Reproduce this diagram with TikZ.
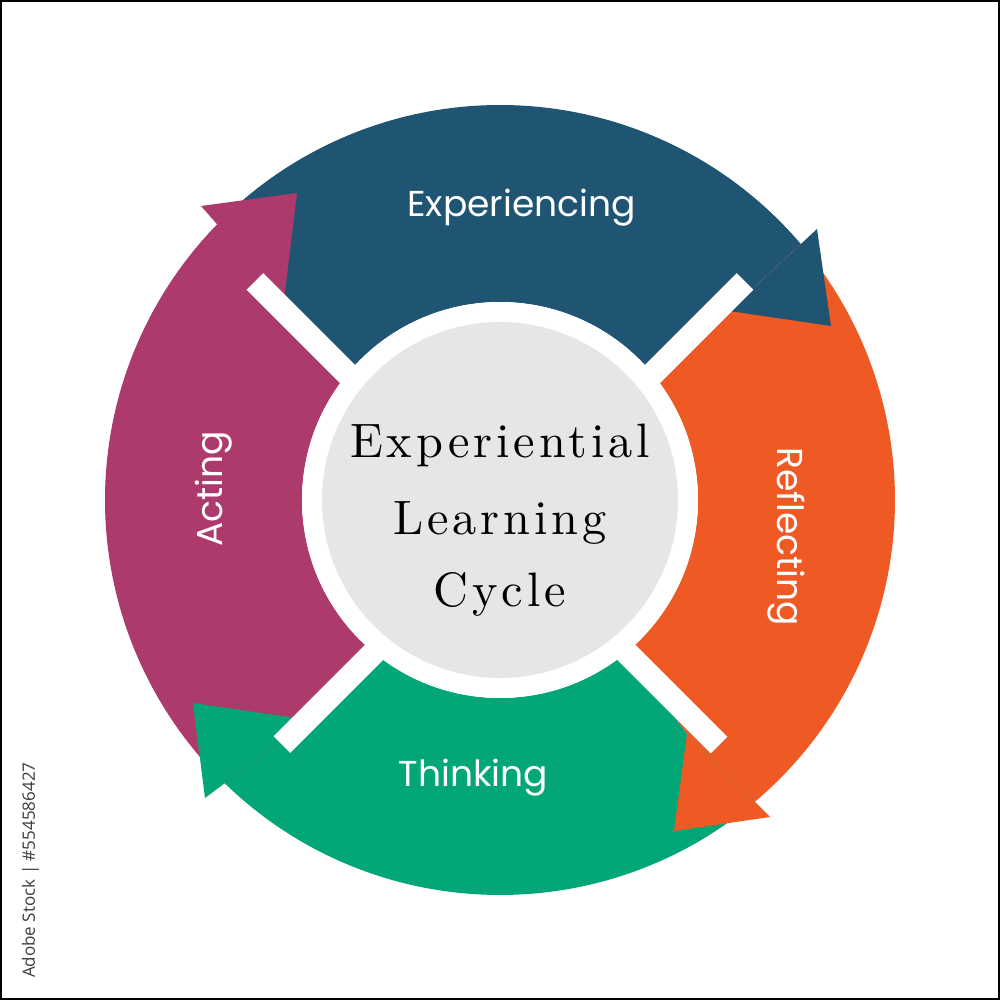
\documentclass[tikz,border=0pt]{standalone}
\usepackage{fontspec}
\newfontfamily\labelfont{Poppins}
\newfontfamily\idfont{Open Sans}
\newfontfamily\centerfont{lmroman10-regular.otf}[LetterSpace=8]
\definecolor{cblue}{RGB}{31,85,115}
\definecolor{corange}{RGB}{239,90,36}
\definecolor{cgreen}{RGB}{3,167,119}
\definecolor{cmag}{RGB}{173,58,108}
\definecolor{cgrey}{RGB}{230,230,230}
\definecolor{cid}{RGB}{60,60,60}
\tikzset{
  lbl/.style={text=white, inner sep=0pt, font=\labelfont\fontsize{20.5}{24}\selectfont},
  ctext/.style={text=black, inner sep=0pt, font=\centerfont\fontsize{27.5}{32}\selectfont},
  barline/.style={white, line width=0.47cm, line cap=butt},
}
\begin{document}
\begin{tikzpicture}[x=0.02cm,y=0.02cm]
\useasboundingbox (-500,-500) rectangle (500,500);
\fill[white] (-500,-500) rectangle (500,500);
% shafts
\fill[cblue] (135.7:395) arc[start angle=135.7, end angle=40.4, radius=395] -- (229,189) -- (39.6:198) arc[start angle=39.6, end angle=140.4, radius=198] -- (-216,200) -- cycle;
\fill[corange] (40.4:395) arc[start angle=40.4, end angle=-49.8, radius=395] -- (187,-234) -- (-50.3:198) arc[start angle=-50.3, end angle=39.6, radius=198] -- (229,189) -- cycle;
\fill[cgreen] (-49.8:395) arc[start angle=-49.8, end angle=-134.2, radius=395] -- (-191,-220) -- (-129.6:198) arc[start angle=-129.6, end angle=-50.3, radius=198] -- (187,-234) -- cycle;
\fill[cmag] (-134.2:395) arc[start angle=-134.2, end angle=-224.3, radius=395] -- (-216,200) -- (-219.6:198) arc[start angle=-219.6, end angle=-129.6, radius=198] -- (-191,-220) -- cycle;
% heads
\fill[cblue] (317,271) -- (331,174) -- (229,189) -- cycle;
\fill[corange] (270,-317) -- (174,-331) -- (187,-234) -- cycle;
\fill[cgreen] (-295,-298) -- (-307,-203) -- (-191,-220) -- cycle;
\fill[cmag] (-299,294) -- (-203,307) -- (-216,200) -- cycle;
% separating bars
\coordinate (tli) at (-100,73.5);  \coordinate (tlo) at (-245,218.5);
\coordinate (tri) at (100,73.5);   \coordinate (tro) at (245,218.5);
\coordinate (bri) at (100,-126);   \coordinate (bro) at (219,-245);
\coordinate (bli) at (-100,-126.5);\coordinate (blo) at (-218,-244.5);
\draw[barline] (tli) -- (tlo);
\draw[barline] (tri) -- (tro);
\draw[barline] (bri) -- (bro);
\draw[barline] (bli) -- (blo);
% centre
\fill[white] (0,0) circle[radius=198];
\fill[cgrey] (0,0) circle[radius=178];
% labels
\node[lbl, anchor=base] (exp) at (21.5,283.3) {Experiencing};
\node[lbl, anchor=base] (thi) at (-26.5,-286.7) {Thinking};
\node[lbl, anchor=base, rotate=90] (act) at (-277,11) {Acting};
\node[lbl, anchor=base, rotate=-90] (ref) at (277,-36.5) {Reflecting};
\node[ctext, anchor=base] (c1) at (0,42) {Experiential};
\node[ctext, anchor=base] (c2) at (0,-35) {Learning};
\node[ctext, anchor=base] (c3) at (0,-107) {Cycle};
% stock id
\node[text=cid, inner sep=0pt, anchor=base east, rotate=90, font=\idfont\fontsize{9.7}{12}\selectfont] (sid) at (-465,-262) {Adobe Stock | \#554586427};
% frame
\draw[black, line width=0.05cm] (-498.75,-498.75) rectangle (498.75,498.75);
\end{tikzpicture}
\end{document}
